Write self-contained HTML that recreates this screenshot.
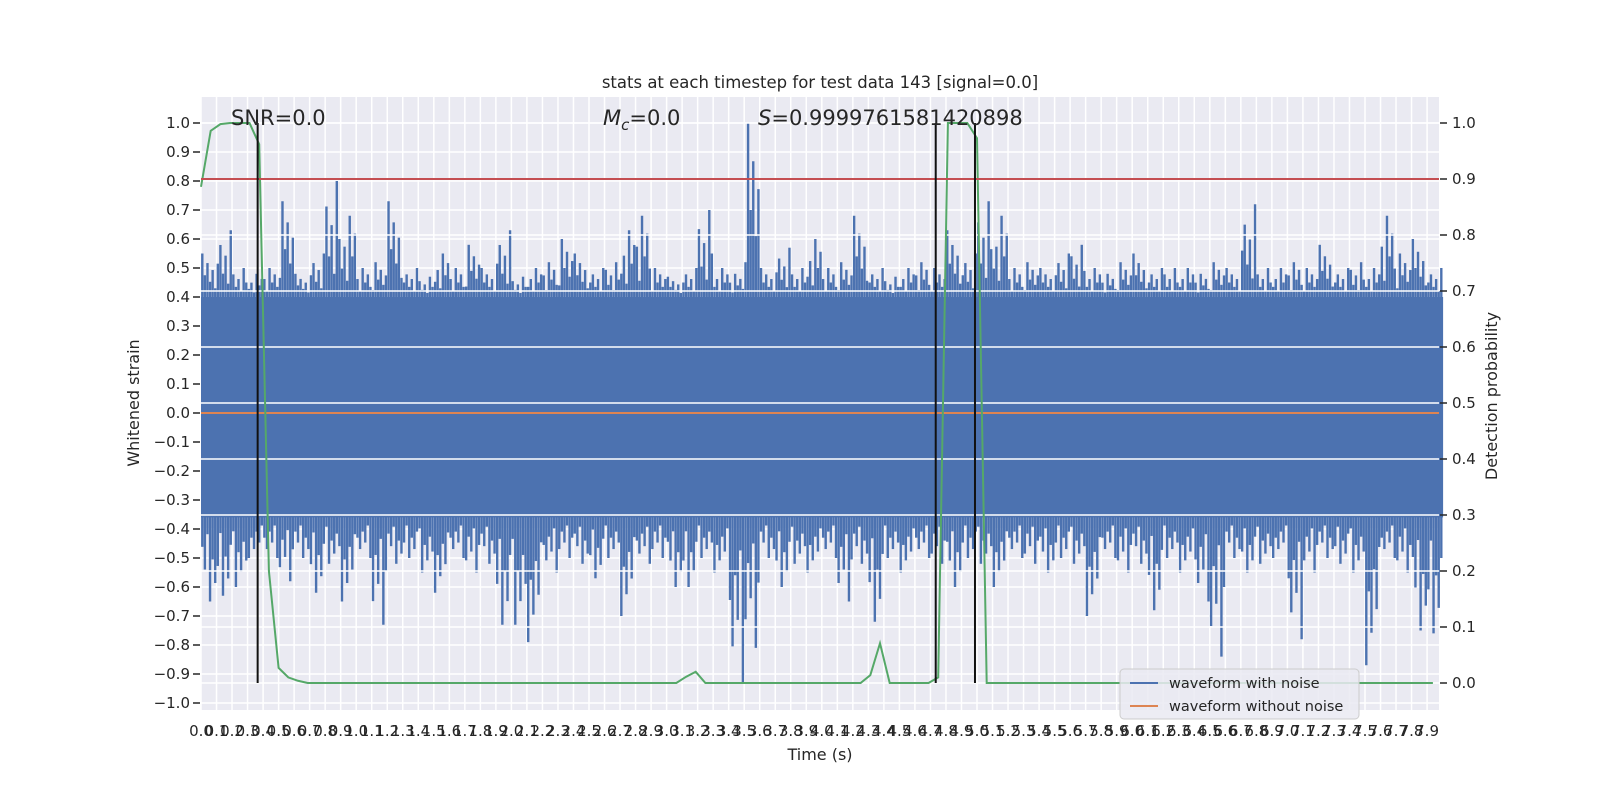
<!DOCTYPE html>
<html><head><meta charset="utf-8"><style>
html,body{margin:0;padding:0;background:#fff;}
svg{display:block;font-family:"DejaVu Sans","Liberation Sans",sans-serif;}
</style></head><body>
<svg id="chart" width="1600" height="800" viewBox="0 0 1600 800" xmlns="http://www.w3.org/2000/svg">
<rect x="201" y="97" width="1238" height="613" fill="#eaeaf2"/>
<g id="grid-left"></g>
<g id="noise"></g>
<g id="grid-right"></g>
<g id="lines"></g>
<g id="ticks"></g>
<text x="820" y="88" font-size="16.5" fill="#262626" text-anchor="middle">stats at each timestep for test data 143 [signal=0.0]</text>
<text x="231" y="125" font-size="21" fill="#262626">SNR=0.0</text>
<text x="603" y="125" font-size="21" fill="#262626"><tspan font-style="italic">M</tspan><tspan font-size="15" font-style="italic" dy="5">c</tspan><tspan dy="-5">=0.0</tspan></text>
<text x="758" y="125" font-size="21" fill="#262626"><tspan font-style="italic">S</tspan>=0.9999761581420898</text>
<text transform="translate(139,403) rotate(-90)" font-size="16" fill="#262626" text-anchor="middle">Whitened strain</text>
<text transform="translate(1497,396) rotate(-90)" font-size="16" fill="#262626" text-anchor="middle">Detection probability</text>
<text x="820" y="760" font-size="16" fill="#262626" text-anchor="middle">Time (s)</text>
<g>
<rect x="1120" y="669" width="239" height="50" rx="4" fill="#eaeaf2" fill-opacity="0.85" stroke="#cccccc"/>
<line x1="1130" y1="683" x2="1158" y2="683" stroke="#4c72b0" stroke-width="2"/>
<text x="1169" y="688" font-size="14.5" fill="#262626">waveform with noise</text>
<line x1="1130" y1="706" x2="1158" y2="706" stroke="#dd8452" stroke-width="2"/>
<text x="1169" y="711" font-size="14.5" fill="#262626">waveform without noise</text>
</g>
</svg>
<script>
const upperPeaks=[0.55,0.63,0.5,0.48,0.5,0.73,0.48,0.55,0.8,0.68,
0.5,0.52,0.73,0.5,0.47,0.55,0.5,0.58,0.5,0.63,
0.47,0.5,0.52,0.6,0.55,0.5,0.52,0.63,0.68,0.5,
0.47,0.5,0.7,0.5,0.48,1.0,0.5,0.57,0.5,0.6,
0.5,0.52,0.68,0.5,0.47,0.5,0.52,0.5,0.63,0.55,
0.73,0.68,0.5,0.52,0.5,0.55,0.58,0.5,0.48,0.52,
0.55,0.5,0.5,0.5,0.48,0.52,0.5,0.72,0.5,0.5,
0.52,0.5,0.58,0.5,0.52,0.5,0.68,0.55,0.6,0.5];
const lowerPeaks=[-0.65,-0.63,-0.6,-0.5,-0.5,-0.58,-0.5,-0.62,-0.52,-0.65,
-0.5,-0.73,-0.52,-0.5,-0.55,-0.62,-0.5,-0.55,-0.52,-0.73,
-0.73,-0.79,-0.55,-0.5,-0.52,-0.57,-0.5,-0.7,-0.52,-0.5,
-0.6,-0.6,-0.5,-0.55,-0.93,-0.81,-0.5,-0.6,-0.52,-0.55,
-0.5,-0.65,-0.52,-0.72,-0.5,-0.55,-0.5,-0.52,-0.6,-0.5,
-0.52,-0.6,-0.5,-0.52,-0.55,-0.5,-0.52,-0.7,-0.5,-0.55,
-0.52,-0.68,-0.5,-0.55,-0.65,-0.84,-0.5,-0.55,-0.52,-0.5,
-0.78,-0.55,-0.5,-0.52,-0.55,-0.87,-0.5,-0.55,-0.75,-0.76];
const coreTop=0.40, coreBottom=-0.36;
const probStep=0.0625;
const probValues=[
0.886,0.986,0.998,1,1,1,0.962,0.2,0.027,0.01,0.004,0,0,0,0,0,
0,0,0,0,0,0,0,0,0,0,0,0,0,0,0,0,
0,0,0,0,0,0,0,0,0,0,0,0,0,0,0,0,
0,0,0.011,0.02,0,0,0,0,0,0,0,0,0,0,0,0,
0,0,0,0,0,0.014,0.071,0,0,0,0,0,0.01,1,1,1,
0.973,0,0,0,0,0,0,0,0,0,0,0,0,0,0,0,
0,0,0,0,0,0,0,0,0,0,0,0,0,0,0,0,
0,0,0,0,0,0,0,0,0,0,0,0,0,0,0,0];
const markerTimes=[0.365,4.734,4.987];
const thresholdProb=0.9;
const xTickLabels=[];for(let i=0;i<80;i++)xTickLabels.push((i/10).toFixed(1));
const leftTicks=[];for(let i=-10;i<=10;i++)leftTicks.push(i/10);
const rightTicks=[];for(let i=0;i<=10;i++)rightTicks.push(i/10);

const NS="http://www.w3.org/2000/svg";
const X0=201,X1=1439,PX=155.2;
function xs(t){return X0+t*PX;}
function yl(v){return 413-v*290;}
function yr(p){return 683-p*560;}
function mk(tag,attrs,parent){const e=document.createElementNS(NS,tag);for(const k in attrs)e.setAttribute(k,attrs[k]);parent.appendChild(e);return e;}
const gL=document.getElementById('grid-left'),gN=document.getElementById('noise'),gR=document.getElementById('grid-right'),gLn=document.getElementById('lines'),gT=document.getElementById('ticks');
xTickLabels.forEach((lab,i)=>{const x=xs(parseFloat(lab));
 const l=mk('line',{x1:x,x2:x,y1:97,y2:710,stroke:'#fff','stroke-width':1.5},gL);
 
 
 const t=mk('text',{x:x,y:736,'font-size':15,fill:'#262626','text-anchor':'middle'},gT);t.textContent=lab;
 
 
});
leftTicks.forEach(v=>{const y=yl(v);
 const l=mk('line',{x1:X0,x2:X1,y1:y,y2:y,stroke:'#fff','stroke-width':1.5},gL);
 
 
 const tk=mk('line',{x1:193,x2:200,y1:y,y2:y,stroke:'#262626','stroke-width':1.5},gT);
 
 
 const t=mk('text',{x:190,y:y+5,'font-size':15,fill:'#262626','text-anchor':'end'},gT);t.textContent=(v<0?'\u2212':'')+Math.abs(v).toFixed(1);
 
 
});
const fr=[1,0.5,0.78,0.35,0.62,0.2];
upperPeaks.forEach((up,b)=>{const x0=xs(b/10),w=PX/10;
 const r=mk('rect',{x:x0,y:yl(coreTop),width:w+0.5,height:yl(coreBottom)-yl(coreTop),fill:'#4c72b0'},gN);
 
 
 const lo=lowerPeaks[b];
 for(let k=0;k<6;k++){const f=fr[(k+b)%6];const x=x0+w*(k+0.5)/6;
  const s=mk('line',{x1:x,x2:x,y1:yl(coreTop)+1,y2:yl(coreTop+(up-coreTop)*f),stroke:'#4c72b0','stroke-width':2.4},gN);
  
  
  const f2=fr[(k+b+3)%6];
  const s2=mk('line',{x1:x,x2:x,y1:yl(coreBottom)-1,y2:yl(coreBottom+(lo-coreBottom)*f2),stroke:'#4c72b0','stroke-width':2.4},gN);
  
  
 }
});
const o=mk('line',{x1:X0,x2:X1,y1:yl(0),y2:yl(0),stroke:'#dd8452','stroke-width':2},gN);


rightTicks.forEach(p=>{const y=yr(p);
 const l=mk('line',{x1:X0,x2:X1,y1:y,y2:y,stroke:'#fff','stroke-width':1.5},gR);
 
 
 const tk=mk('line',{x1:1440,x2:1447,y1:y,y2:y,stroke:'#262626','stroke-width':1.5},gT);
 
 
 const t=mk('text',{x:1452,y:y+5,'font-size':15,fill:'#262626'},gT);t.textContent=p.toFixed(1);
 
 
});
const g=mk('polyline',{points:probValues.map((p,i)=>xs(i*probStep)+','+yr(p)).join(' '),fill:'none',stroke:'#55a868','stroke-width':2},gLn);


const red=mk('line',{x1:X0,x2:X1,y1:yr(thresholdProb),y2:yr(thresholdProb),stroke:'#c44e52','stroke-width':2},gLn);


markerTimes.forEach(t=>{const x=xs(t);
 const m=mk('line',{x1:x,x2:x,y1:yr(1),y2:yr(0),stroke:'#111','stroke-width':2},gLn);
 
 
});
</script>
</body></html>
